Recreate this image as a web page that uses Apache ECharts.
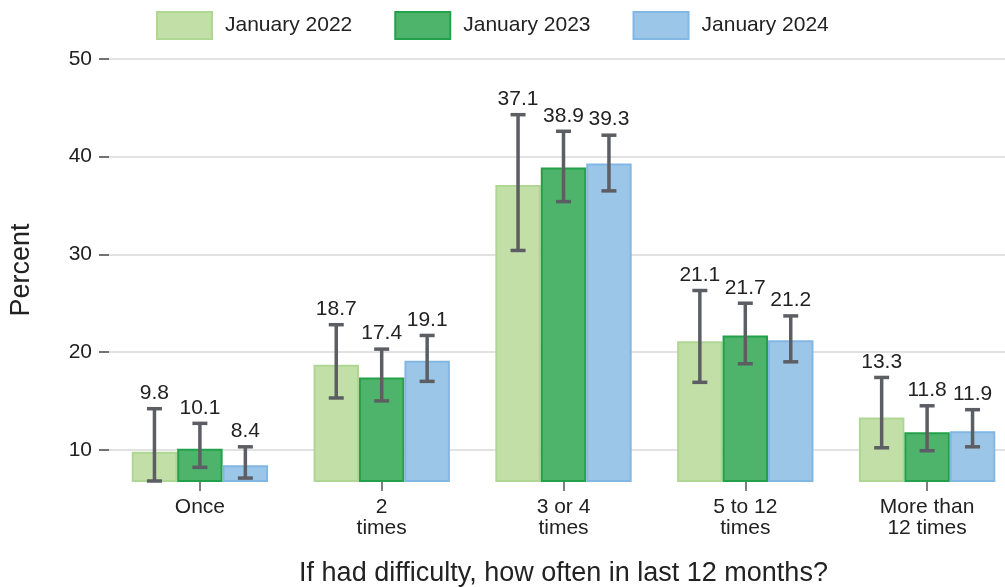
<!DOCTYPE html>
<html>
<head>
<meta charset="utf-8">
<script src="https://cdn.jsdelivr.net/npm/echarts@6/dist/echarts.min.js"></script>
<style>
  html, body { margin: 0; padding: 0; background: #fff; }
  #chart { width: 1005px; height: 587px; }
</style>
</head>
<body>
<div id="chart"></div>
<script>
// ---- Data ----
const categories = ['Once', '2\ntimes', '3 or 4\ntimes', '5 to 12\ntimes', 'More than\n12 times'];
const seriesNames = ['January 2022', 'January 2023', 'January 2024'];
const values2022 = [9.8, 18.7, 37.1, 21.1, 13.3];
const values2023 = [10.1, 17.4, 38.9, 21.7, 11.8];
const values2024 = [8.4, 19.1, 39.3, 21.2, 11.9];
const lower2022 = [6.8, 15.3, 30.4, 16.9, 10.2];
const upper2022 = [14.2, 22.8, 44.3, 26.3, 17.4];
const lower2023 = [8.2, 15.0, 35.4, 18.8, 9.9];
const upper2023 = [12.7, 20.3, 42.6, 25.0, 14.5];
const lower2024 = [7.1, 17.0, 36.5, 19.0, 10.3];
const upper2024 = [10.3, 21.7, 42.2, 23.7, 14.1];
const yTicks = [10, 20, 30, 40, 50];

const FONT = 'Liberation Sans, Arial, sans-serif';
const fills = ['#c2dfa8', '#4eb46c', '#9cc6e8'];
const borders = ['#b0d694', '#23a14a', '#82b7e4'];

const valueSets = [values2022, values2023, values2024];
const lowerSets = [lower2022, lower2023, lower2024];
const upperSets = [upper2022, upper2023, upper2024];

const chart = echarts.init(document.getElementById('chart'), null, { renderer: 'canvas' });

const barSeries = seriesNames.map((name, i) => ({
  name: name,
  type: 'bar',
  data: valueSets[i],
  barGap: '0%',
  barCategoryGap: '25%',
  clip: true,
  itemStyle: { color: fills[i], borderColor: borders[i], borderWidth: 2 },
  emphasis: { disabled: true },
  z: 2
}));

const errSeries = seriesNames.map((name, i) => ({
  type: 'custom',
  name: name + ' CI',
  z: 5,
  silent: true,
  encode: { x: 0, y: [1, 2] },
  data: categories.map((c, k) => [k, lowerSets[i][k], upperSets[i][k], valueSets[i][k]]),
  renderItem: function (params, api) {
    const ci = api.value(0);
    const lo = api.value(1), hi = api.value(2), v = api.value(3);
    const band = api.size([1, 0])[0];
    const pLo = api.coord([ci, lo]);
    const pHi = api.coord([ci, hi]);
    const xc = pLo[0] + (i - 1) * band * 0.25;
    const cap = 7.5;
    const lineStyle = { stroke: '#5c5e63', lineWidth: 3.5 };
    return {
      type: 'group',
      children: [
        { type: 'line', shape: { x1: xc, y1: pLo[1], x2: xc, y2: pHi[1] }, style: lineStyle },
        { type: 'line', shape: { x1: xc - cap, y1: pLo[1], x2: xc + cap, y2: pLo[1] }, style: lineStyle },
        { type: 'line', shape: { x1: xc - cap, y1: pHi[1], x2: xc + cap, y2: pHi[1] }, style: lineStyle },
        { type: 'text', style: { text: v.toFixed(1), x: xc, y: pHi[1] - 5, align: 'center', verticalAlign: 'bottom', fontSize: 21, fontFamily: FONT, fill: '#222' } }
      ]
    };
  }
}));

chart.setOption({
  animation: false,
  textStyle: { fontFamily: FONT },
  legend: {
    data: seriesNames,
    left: 156,
    top: 11,
    padding: 0,
    itemWidth: 55,
    itemHeight: 27,
    itemGap: 42,
    icon: 'rect',
    textStyle: { fontSize: 21, color: '#222', fontFamily: FONT, padding: [0, 0, 0, 8] }
  },
  grid: { left: 109, width: 909, top: 59, bottom: 106, outerBoundsMode: 'none', containLabel: false },
  xAxis: {
    type: 'category',
    data: categories,
    name: 'If had difficulty, how often in last 12 months?',
    nameLocation: 'middle',
    nameGap: 79,
    nameTextStyle: { fontSize: 27, color: '#222', fontFamily: FONT },
    axisLine: { show: false },
    axisTick: { show: true, alignWithLabel: true, length: 10, lineStyle: { color: '#555', width: 1.5 } },
    axisLabel: { fontSize: 21, color: '#222', fontFamily: FONT, margin: 16, lineHeight: 21, interval: 0 },
    splitLine: { show: false }
  },
  yAxis: {
    type: 'value',
    min: 6.8,
    max: 50,
    name: 'Percent',
    nameLocation: 'middle',
    nameGap: 74,
    nameTextStyle: { fontSize: 27, color: '#222', fontFamily: FONT },
    axisLine: { show: false },
    axisTick: { show: true, length: 10, customValues: yTicks, lineStyle: { color: '#444', width: 1.5 } },
    axisLabel: { fontSize: 21, color: '#222', fontFamily: FONT, margin: 17, customValues: yTicks },
    splitLine: { show: true, lineStyle: { color: '#e2e2e2', width: 2 } }
  },
  series: barSeries.concat(errSeries)
});
</script>
</body>
</html>
